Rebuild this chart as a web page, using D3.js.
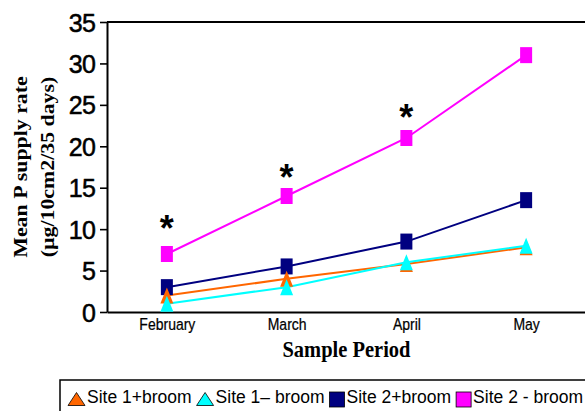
<!DOCTYPE html>
<html>
<head>
<meta charset="utf-8">
<script src="https://cdn.jsdelivr.net/npm/d3@7"></script>
<style>
  html, body { margin: 0; padding: 0; background: #fff; }
  svg { display: block; }
</style>
</head>
<body>
<div id="chart"></div>
<script>
// Mean P supply rate by sample period, four site/broom series

const months = ['February', 'March', 'April', 'May'];
const site1Plus = [2, 4, 5.8, 7.8];
const site1Minus = [1, 3, 6, 8];
const site2Plus = [3, 5.5, 8.5, 13.5];
const site2Minus = [7, 14, 21, 31];
const sigMonths = ['February', 'March', 'April'];
const sigLevels = [11, 17.1, 24.4];
const yTicks = [0, 5, 10, 15, 20, 25, 30, 35];
const seriesNames = ['Site 1+broom', 'Site 1\u2013 broom', 'Site 2+broom', 'Site 2 - broom'];

const SANS = '"Liberation Sans", Arial, sans-serif';
const SERIF = '"Liberation Serif", "Times New Roman", serif';

const width = 585, height = 411;
const margin = { top: 22, left: 107, right: -1, bottom: 99 };

const svg = d3.select('#chart').append('svg')
  .attr('width', width)
  .attr('height', height);

const x = d3.scalePoint()
  .domain(months)
  .range([margin.left, width - margin.right])
  .padding(0.5);

const y = d3.scaleLinear()
  .domain([0, 35])
  .range([height - margin.bottom, margin.top]);

// series in drawing order (back to front)
const series = [
  { name: seriesNames[3], values: site2Minus, color: '#ff00ff', shape: 'square' },
  { name: seriesNames[2], values: site2Plus, color: '#000080', shape: 'square' },
  { name: seriesNames[0], values: site1Plus, color: '#ff6600', shape: 'triangle' },
  { name: seriesNames[1], values: site1Minus, color: '#00ffff', shape: 'triangle' }
];

// top frame line
svg.append('line')
  .attr('x1', x.range()[0]).attr('x2', x.range()[1])
  .attr('y1', y(35)).attr('y2', y(35))
  .attr('stroke', '#000').attr('stroke-width', 2);

// y axis
const yAxis = svg.append('g')
  .attr('transform', `translate(${margin.left},0)`)
  .call(d3.axisLeft(y).tickValues(yTicks).tickSize(7).tickSizeOuter(0).tickPadding(5));
yAxis.select('.domain').attr('stroke-width', 2);
yAxis.selectAll('.tick line').attr('stroke-width', 1.6);
yAxis.selectAll('.tick text')
  .attr('fill', '#000')
  .attr('stroke', '#000')
  .attr('stroke-width', 0.5)
  .attr('dy', '0.36em')
  .style('font-family', SANS)
  .style('font-size', '25px')
  .style('letter-spacing', '-0.8px');

// x axis
const xAxis = svg.append('g')
  .attr('transform', `translate(0,${y(0)})`)
  .call(d3.axisBottom(x).tickSize(0).tickSizeOuter(0));
xAxis.select('.domain').attr('stroke-width', 2);
xAxis.selectAll('.tick text')
  .attr('fill', '#000')
  .attr('stroke', '#000')
  .attr('stroke-width', 0.2)
  .attr('y', 16)
  .attr('dy', 0)
  .style('font-family', SANS)
  .style('font-size', '14px')
  .attr('transform', 'scale(1,1.12)');

// axis titles
svg.append('text')
  .attr('transform', `translate(${(x.range()[0] + x.range()[1]) / 2},357) scale(1,1.12)`)
  .attr('text-anchor', 'middle')
  .style('font-family', SERIF)
  .style('font-weight', '700')
  .style('font-size', '20.5px')
  .text('Sample Period');

const yTitle = svg.append('g')
  .attr('transform', 'translate(0,167) rotate(-90) scale(1.15,1)')
  .style('font-family', SERIF)
  .style('font-weight', '700')
  .style('font-size', '19px')
  .attr('text-anchor', 'middle');
yTitle.append('text').attr('x', 0).attr('y', 27).text('Mean P supply rate');
yTitle.append('text').attr('x', 0).attr('y', 54).text('(\u00b5g/10cm2/35 days)');

// lines
const line = d3.line()
  .x((d, i) => x(months[i]))
  .y(d => y(d));

const markW = 12, markH = 16;
const triPath = (w, h) => `M0,${-h / 2}L${w / 2},${h / 2}L${-w / 2},${h / 2}Z`;

series.forEach(s => {
  svg.append('path')
    .datum(s.values)
    .attr('fill', 'none')
    .attr('stroke', s.color)
    .attr('stroke-width', 2)
    .attr('d', line);
});

series.forEach(s => {
  const g = svg.append('g');
  if (s.shape === 'square') {
    g.selectAll('rect')
      .data(s.values)
      .join('rect')
        .attr('x', (d, i) => x(months[i]) - markW / 2)
        .attr('y', d => y(d) - markH / 2)
        .attr('width', markW)
        .attr('height', markH)
        .attr('fill', s.color);
  } else {
    g.selectAll('path')
      .data(s.values)
      .join('path')
        .attr('transform', (d, i) => `translate(${x(months[i])},${y(d)})`)
        .attr('d', triPath(markW + 1, markH))
        .attr('fill', s.color);
  }
});

// significance asterisks
svg.append('g')
  .selectAll('text')
  .data(sigLevels)
  .join('text')
    .attr('x', (d, i) => x(sigMonths[i]))
    .attr('y', d => y(d) + 20)
    .attr('text-anchor', 'middle')
    .style('font-family', SANS)
    .style('font-weight', '700')
    .style('font-size', '36px')
    .text('*');

// legend
const legend = svg.append('g');
legend.append('rect')
  .attr('x', 60).attr('y', 380)
  .attr('width', 600).attr('height', 60)
  .attr('fill', '#fff')
  .attr('stroke', '#000')
  .attr('stroke-width', 1.5);

const legendOrder = [series[2], series[3], series[1], series[0]];
let lx = 68;
legendOrder.forEach(s => {
  let mw;
  if (s.shape === 'triangle') {
    mw = 17;
    legend.append('path')
      .attr('transform', `translate(${lx + mw / 2},${399})`)
      .attr('d', triPath(mw, 13))
      .attr('fill', s.color)
      .attr('stroke', '#000')
      .attr('stroke-width', 0.8);
  } else {
    mw = 15;
    legend.append('rect')
      .attr('x', lx).attr('y', 392)
      .attr('width', mw).attr('height', 15)
      .attr('fill', s.color)
      .attr('stroke', '#000')
      .attr('stroke-width', 0.8);
  }
  const t = legend.append('text')
    .attr('x', lx + mw + 2)
    .attr('y', 403)
    .style('font-family', SANS)
    .style('font-size', '17.5px')
    .text(s.name);
  lx += mw + 2 + t.node().getComputedTextLength() + 5;
});
</script>
</body>
</html>
